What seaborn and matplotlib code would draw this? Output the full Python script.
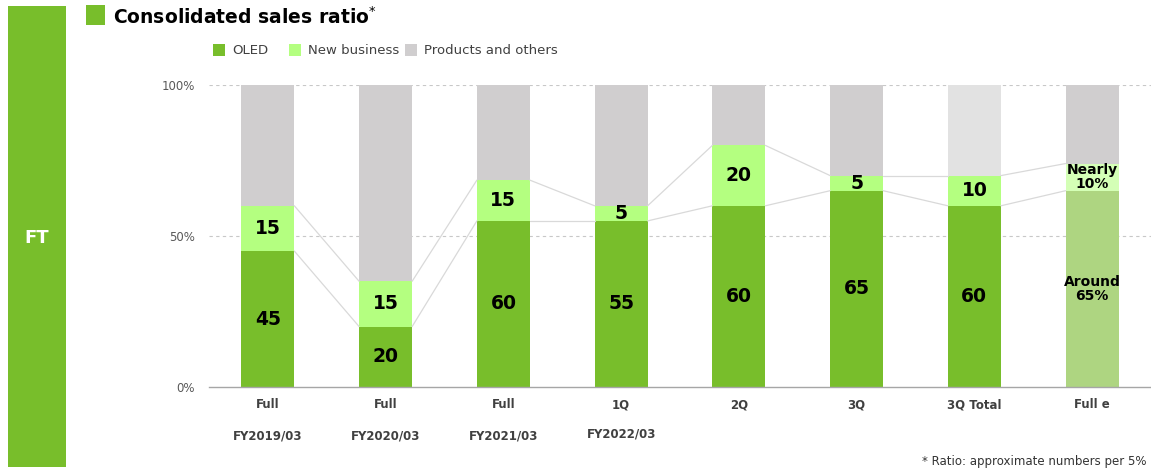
import matplotlib
matplotlib.use("Agg")
import matplotlib.pyplot as plt
import seaborn as sns
import pandas as pd
from matplotlib.patches import Rectangle

categories = ["Full", "Full ", "Full  ", "1Q", "2Q", "3Q", "3Q Total", "Full e"]
tick_labels = ["Full", "Full", "Full", "1Q", "2Q", "3Q", "3Q Total", "Full e"]
period_labels = ["FY2019/03", "FY2020/03", "FY2021/03", "FY2022/03"]
# drawn segment heights
oled = [45, 20, 55, 55, 60, 65, 60, 65]
new_business = [15, 15, 13.5, 5, 20, 5, 10, 9]
others = [100 - o - n for o, n in zip(oled, new_business)]
# printed labels
oled_labels = ["45", "20", "60", "55", "60", "65", "60", "Around\n65%"]
new_labels = ["15", "15", "15", "5", "20", "5", "10", "Nearly\n10%"]

C_OLED = "#78be2b"
C_NEW = "#b4ff80"
C_OTH = "#d0cecf"
oled_colors = [C_OLED] * 7 + ["#aed581"]
new_colors = [C_NEW] * 7 + ["#d4ffb6"]
oth_colors = [C_OTH] * 6 + ["#e2e2e2", C_OTH]

sns.set_theme(style="white")
plt.rcParams["font.family"] = ["DejaVu Sans"]

W, H = 1151, 472
fig = plt.figure(figsize=(W / 100, H / 100), dpi=100)
ax = fig.add_axes([209 / W, (H - 387) / H, 942 / W, 302 / H])

df = pd.DataFrame({"cat": categories, "oled": oled, "new": new_business, "oth": others})
df["top_new"] = df["oled"] + df["new"]
df["total"] = df["top_new"] + df["oth"]

bw = 0.45
sns.barplot(data=df, x="cat", y="total", hue="cat", palette=oth_colors, saturation=1,
            width=bw, legend=False, ax=ax, linewidth=0)
sns.barplot(data=df, x="cat", y="top_new", hue="cat", palette=new_colors, saturation=1,
            width=bw, legend=False, ax=ax, linewidth=0)
sns.barplot(data=df, x="cat", y="oled", hue="cat", palette=oled_colors, saturation=1,
            width=bw, legend=False, ax=ax, linewidth=0)

# connector lines
for i in range(len(categories) - 1):
    for series in (df["oled"], df["top_new"]):
        ax.plot([i + bw / 2, i + 1 - bw / 2], [series[i], series[i + 1]],
                color="#d9d9d9", lw=0.9, zorder=1)

# value labels
for i in range(len(categories)):
    last = i == len(categories) - 1
    fs = 10 if last else 13.5
    ax.text(i, oled[i] / 2, oled_labels[i], ha="center", va="center",
            fontsize=fs, fontweight="bold", color="black", linespacing=1.0)
    ax.text(i, oled[i] + new_business[i] / 2, new_labels[i], ha="center", va="center",
            fontsize=fs, fontweight="bold", color="black", linespacing=1.0)

ax.set_xlim(-0.5, len(categories) - 0.5)
ax.set_ylim(0, 100)
ax.set_yticks([0, 50, 100])
ax.set_yticklabels(["0%", "50%", "100%"], fontsize=8.5, color="#595959")
ax.tick_params(axis="y", length=0, pad=10)
for y in (50, 100):
    ax.axhline(y, color="#c8c8c8", lw=0.8, ls=(0, (3, 3)), zorder=0)

ax.set_xticks(range(len(categories)))
ax.set_xticklabels(tick_labels, fontsize=8.5, fontweight="bold", color="#404040")
ax.tick_params(axis="x", length=0, pad=8)
ax.set_xticks([i - 0.5 for i in range(len(categories) + 1)], minor=True)
ax.tick_params(axis="x", which="minor", length=5, color="#a6a6a6", width=1, direction="out")
ax.set_xlabel("")
ax.set_ylabel("")
for s in ("top", "right", "left"):
    ax.spines[s].set_visible(False)
ax.spines["bottom"].set_color("#a6a6a6")
ax.spines["bottom"].set_linewidth(1)

period_offsets = [-35, -35, -35, -33.5]
for i, lab in enumerate(period_labels):
    ax.annotate(lab, xy=(i, 0), xycoords="data", xytext=(0, period_offsets[i]),
                textcoords="offset points", ha="center", va="center",
                fontsize=8.5, fontweight="bold", color="#404040")

# left green band
fig.patches.append(Rectangle((8 / W, 5 / H), 58 / W, 461 / H, transform=fig.transFigure,
                             facecolor=C_OLED, edgecolor="none"))
fig.text(37 / W, 1 - 238 / H, "FT", ha="center", va="center", color="white",
         fontsize=13, fontweight="bold")

# title
fig.patches.append(Rectangle((86 / W, 1 - 25 / H), 19 / W, 20 / H, transform=fig.transFigure,
                             facecolor=C_OLED, edgecolor="none"))
fig.text(113 / W, 1 - 17 / H, r"Consolidated sales ratio$^{*}$", ha="left", va="center",
         fontsize=13.5, fontweight="bold", color="black")

# legend
legend_items = [("OLED", C_OLED, 213), ("New business", C_NEW, 289), ("Products and others", C_OTH, 405)]
for lab, col, x in legend_items:
    fig.patches.append(Rectangle((x / W, 1 - 56 / H), 12 / W, 12 / H, transform=fig.transFigure,
                                 facecolor=col, edgecolor="none"))
    fig.text((x + 19) / W, 1 - 50 / H, lab, ha="left", va="center", fontsize=9.5, color="#404040")

fig.text(1146 / W, 1 - 461 / H, "* Ratio: approximate numbers per 5%", ha="right", va="center",
         fontsize=8.5, color="#333333")

fig.savefig("out.png", dpi=100)
